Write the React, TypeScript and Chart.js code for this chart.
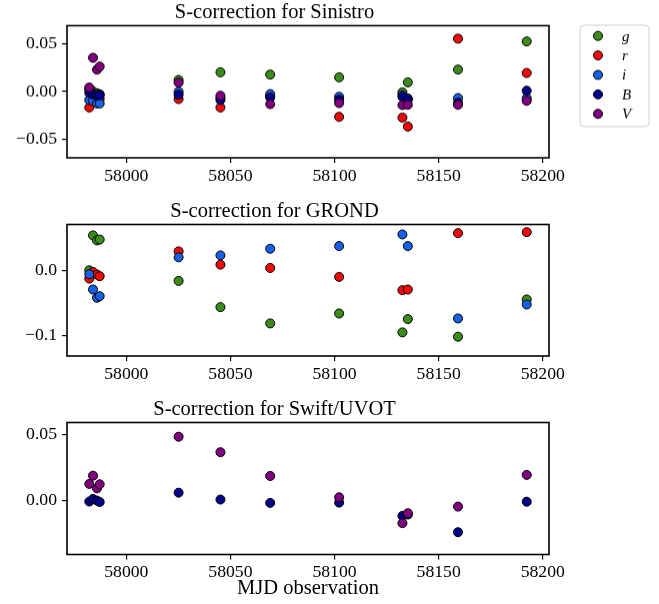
import React, { useEffect, useRef } from 'react';
import { Chart, registerables } from 'chart.js';

Chart.register(...registerables);

// Observation epochs (MJD)
const MJD = [57982.2, 57984.0, 57985.9, 57987.2, 58025.1, 58045.2, 58069.1, 58102.2, 58132.6, 58135.2, 58159.3, 58192.3];

// Sinistro S-corrections
const sinG = [0.002, 0.0, -0.002, -0.003, 0.012, 0.020, 0.0176, 0.0147, -0.001, 0.0095, 0.0228, 0.0523];
const sinR = [-0.0168, -0.005, -0.008, -0.008, -0.008, -0.0168, -0.005, -0.0266, -0.0274, -0.0368, 0.0552, 0.0193];
const sinI = [-0.009, -0.010, -0.0126, -0.0126, -0.0003, -0.007, -0.0028, -0.0056, -0.004, -0.0074, -0.007, -0.007];
const sinB = [-0.0015, -0.003, -0.004, -0.004, -0.0035, -0.009, -0.0063, -0.0087, -0.0056, -0.0087, -0.012, 0.0007];
const sinV = [0.004, 0.0352, 0.0228, 0.026, 0.0092, -0.0045, -0.0133, -0.0122, -0.0143, -0.014, -0.014, -0.0098];

// GROND S-corrections
const groG = [0.0, 0.0533, 0.0457, 0.047, -0.0162, -0.0563, -0.0812, -0.066, -0.0949, -0.0746, -0.1015, -0.0446];
const groR = [-0.0127, -0.0025, -0.0066, -0.0091, 0.0289, 0.0086, 0.0036, -0.0101, -0.0304, -0.0294, 0.0568, 0.0583];
const groI = [-0.006, -0.0294, -0.042, -0.0396, 0.0198, 0.0228, 0.033, 0.037, 0.0548, 0.037, -0.0736, -0.0523];

// Swift/UVOT S-corrections
const swiB = [-0.0007, 0.0013, 0.0, -0.001, 0.006, 0.0008, -0.0017, -0.0015, -0.0115, -0.0105, -0.0238, -0.0008];
const swiV = [0.0126, 0.0188, 0.0093, 0.0123, 0.0482, 0.0365, 0.0186, 0.0025, -0.017, -0.0095, -0.0045, 0.0194];

const X_TICKS = [58000, 58050, 58100, 58150, 58200];
const SIN_Y_TICKS = [-0.05, 0, 0.05];
const GRO_Y_TICKS = [-0.1, 0.0];
const SWI_Y_TICKS = [0, 0.05];
const FILTERS = ['g', 'r', 'i', 'B', 'V'];

const COLORS: Record<string, string> = {
  g: '#3c8c1c',
  r: '#f20808',
  i: '#1660e6',
  B: '#00008a',
  V: '#800080',
};

const FONT = "'Liberation Serif', 'DejaVu Serif', serif";
const TICK_SIZE = 17.7;
const TITLE_SIZE = 20.5;
const W = 659;
const X_MIN = 57971.5;
const X_MAX = 58203;

type Series = { label: string; values: number[] };

type PanelProps = {
  title: string;
  series: Series[];
  yMin: number;
  yMax: number;
  yTicks: number[];
  decimals: number;
  top: number;
  height: number;
  xTitle?: string;
  legend?: boolean;
};

const fmt = (v: number, d: number) => {
  const s = Math.abs(v).toFixed(d);
  return v < -1e-9 ? '\u2212' + s : s;
};

const framePlugin = {
  id: 'frame',
  afterDraw(chart: any) {
    const { ctx, chartArea } = chart;
    ctx.save();
    ctx.strokeStyle = '#000';
    ctx.lineWidth = 1.6;
    ctx.strokeRect(chartArea.left, chartArea.top, chartArea.right - chartArea.left, chartArea.bottom - chartArea.top);
    ctx.restore();
  },
};

const legendPlugin = {
  id: 'customLegend',
  afterDraw(chart: any) {
    const ctx = chart.ctx;
    const x0 = 580, y0 = 25, w = 69, h = 101, r = 4;
    ctx.save();
    ctx.beginPath();
    ctx.moveTo(x0 + r, y0);
    ctx.lineTo(x0 + w - r, y0);
    ctx.quadraticCurveTo(x0 + w, y0, x0 + w, y0 + r);
    ctx.lineTo(x0 + w, y0 + h - r);
    ctx.quadraticCurveTo(x0 + w, y0 + h, x0 + w - r, y0 + h);
    ctx.lineTo(x0 + r, y0 + h);
    ctx.quadraticCurveTo(x0, y0 + h, x0, y0 + h - r);
    ctx.lineTo(x0, y0 + r);
    ctx.quadraticCurveTo(x0, y0, x0 + r, y0);
    ctx.closePath();
    ctx.fillStyle = '#ffffff';
    ctx.fill();
    ctx.strokeStyle = '#d0d0d0';
    ctx.lineWidth = 1;
    ctx.stroke();
    FILTERS.forEach((f, k) => {
      const cy = 35.7 + k * 19.4;
      ctx.beginPath();
      ctx.arc(598, cy, 4.5, 0, Math.PI * 2);
      ctx.fillStyle = COLORS[f];
      ctx.fill();
      ctx.strokeStyle = '#000';
      ctx.lineWidth = 1;
      ctx.stroke();
      ctx.fillStyle = '#000';
      ctx.font = `italic 15px ${FONT}`;
      ctx.textBaseline = 'middle';
      ctx.textAlign = 'left';
      ctx.fillText(f, 622, cy + 1);
    });
    ctx.restore();
  },
};

function Panel(props: PanelProps) {
  const ref = useRef<HTMLCanvasElement | null>(null);
  useEffect(() => {
    if (!ref.current) return;
    const order: Record<string, number> = { g: 5, r: 4, i: 3, B: 2, V: 1 };
    const datasets = props.series.map((s) => ({
      label: s.label,
      data: MJD.map((x, k) => ({ x, y: s.values[k] })),
      backgroundColor: COLORS[s.label],
      borderColor: '#000',
      borderWidth: 1,
      pointRadius: 4.5,
      pointHoverRadius: 4.5,
      showLine: false,
      order: order[s.label],
    }));
    const areaTop = 25.5;
    const areaBottom = 157.5;
    const titleLH = TITLE_SIZE * 1.2;
    const xH = props.height - areaBottom;
    const chart = new Chart(ref.current, {
      type: 'scatter',
      data: { datasets },
      options: {
        animation: false,
        responsive: false,
        events: [],
        layout: { padding: { left: 0, right: 110, top: 0, bottom: 0 } },
        plugins: {
          legend: { display: false },
          tooltip: { enabled: false },
          title: {
            display: true,
            text: props.title,
            color: '#000',
            font: { family: FONT, size: TITLE_SIZE, weight: 'normal', lineHeight: 1.2 },
            padding: { top: 0, bottom: areaTop - titleLH },
          },
        },
        scales: {
          x: {
            type: 'linear',
            position: 'bottom',
            min: X_MIN,
            max: X_MAX,
            afterBuildTicks: (s: any) => {
              s.ticks = X_TICKS.map((v) => ({ value: v }));
            },
            afterFit: (s: any) => {
              s.height = xH;
            },
            grid: { drawOnChartArea: false, drawTicks: true, tickLength: 5, color: '#000', lineWidth: 1.2 },
            border: { display: false },
            ticks: {
              color: '#000',
              font: { family: FONT, size: TICK_SIZE },
              padding: 2.5,
              maxRotation: 0,
              autoSkip: false,
              callback: (v: any) => String(v),
            },
            title: props.xTitle
              ? {
                  display: true,
                  text: props.xTitle,
                  color: '#000',
                  font: { family: FONT, size: TITLE_SIZE, lineHeight: 1.2 },
                  padding: { top: 0, bottom: 2.7 },
                }
              : { display: false },
          },
          y: {
            type: 'linear',
            min: props.yMin,
            max: props.yMax,
            afterBuildTicks: (s: any) => {
              s.ticks = props.yTicks.map((v) => ({ value: v }));
            },
            afterFit: (s: any) => {
              s.width = 67;
            },
            grid: { drawOnChartArea: false, drawTicks: true, tickLength: 5, color: '#000', lineWidth: 1.2 },
            border: { display: false },
            ticks: {
              color: '#000',
              font: { family: FONT, size: TICK_SIZE },
              padding: 5,
              autoSkip: false,
              callback: (v: any) => fmt(Number(v), props.decimals),
            },
          },
        },
      },
      plugins: props.legend ? [framePlugin, legendPlugin] : [framePlugin],
    } as any);
    return () => chart.destroy();
  }, []);
  return (
    <canvas
      ref={ref}
      width={W}
      height={props.height}
      style={{ position: 'absolute', left: 0, top: props.top, width: W, height: props.height }}
    />
  );
}

export default function App() {
  return (
    <div style={{ position: 'fixed', left: 0, top: 0, width: W, height: 604, background: '#fff' }}>
      <Panel
        title="S-correction for Sinistro"
        series={[
          { label: 'g', values: sinG },
          { label: 'r', values: sinR },
          { label: 'i', values: sinI },
          { label: 'B', values: sinB },
          { label: 'V', values: sinV },
        ]}
        yMin={-0.0695}
        yMax={0.0688}
        yTicks={SIN_Y_TICKS}
        decimals={2}
        top={0}
        height={198.5}
        legend
      />
      <Panel
        title="S-correction for GROND"
        series={[
          { label: 'g', values: groG },
          { label: 'r', values: groR },
          { label: 'i', values: groI },
        ]}
        yMin={-0.131}
        yMax={0.070}
        yTicks={GRO_Y_TICKS}
        decimals={1}
        top={198.5}
        height={198.5}
      />
      <Panel
        title="S-correction for Swift/UVOT"
        series={[
          { label: 'B', values: swiB },
          { label: 'V', values: swiV },
        ]}
        yMin={-0.0406}
        yMax={0.0589}
        yTicks={SWI_Y_TICKS}
        decimals={2}
        top={397}
        height={207}
        xTitle="MJD observation"
      />
    </div>
  );
}
